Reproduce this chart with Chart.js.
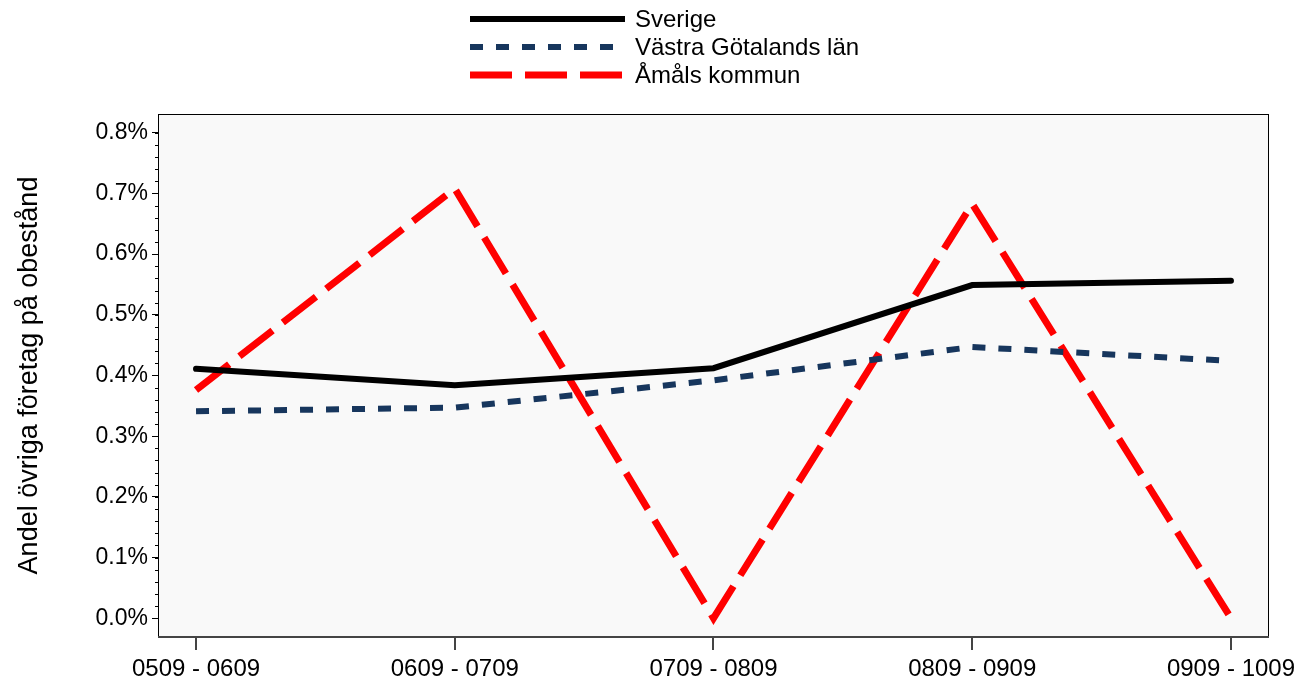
<!DOCTYPE html>
<html>
<head>
<meta charset="utf-8">
<script src="https://cdn.jsdelivr.net/npm/chart.js@4/dist/chart.umd.min.js"></script>
<style>
	html, body { margin: 0; padding: 0; background: #fff; }
	#wrap { width: 1297px; height: 689px; }
</style>
</head>
<body>
<div id="wrap"><canvas id="lineChart" width="1297" height="689"></canvas></div>
<script>
var perioder = ["0509 - 0609", "0609 - 0709", "0709 - 0809", "0809 - 0909", "0909 - 1009"];
var sverige = [0.411, 0.384, 0.412, 0.549, 0.556];
var vastraGotaland = [0.341, 0.347, 0.392, 0.447, 0.424];
var amal = [0.376, 0.708, 0, 0.683, 0];
var yTicks = [0, 0.1, 0.2, 0.3, 0.4, 0.5, 0.6, 0.7, 0.8];
var serieNamn = ["Sverige", "Västra Götalands län", "Åmåls kommun"];

var font = "'Liberation Sans', Arial, sans-serif";
var color = {
	black: "#000000",
	navy: "#17365d",
	red: "#ff0000",
	plot: "#f9f9f9"
};

function punkter(values) {
	return values.map(function (v, i) {
		return { x: i, y: v };
	});
}

// bakgrund, ram och små streck på y-axeln
var ramPlugin = {
	id: "ram",
	beforeDatasetsDraw: function (chart) {
		var ctx = chart.ctx;
		var a = chart.chartArea;
		ctx.save();
		ctx.strokeStyle = "#000";
		ctx.lineWidth = 1;
		ctx.strokeRect(a.left + 0.5, a.top + 0.5, a.right - a.left - 1, a.bottom - a.top);
		var y = chart.scales.y;
		ctx.beginPath();
		for (var v = 0; v <= 0.8001; v += 0.02) {
			var p = Math.round(y.getPixelForValue(v)) + 0.5;
			ctx.moveTo(a.left - 3, p);
			ctx.lineTo(a.left, p);
		}
		ctx.stroke();
		ctx.beginPath();
		ctx.strokeStyle = "#444";
		ctx.lineWidth = 2;
		ctx.moveTo(a.left, a.bottom);
		ctx.lineTo(a.right, a.bottom);
		ctx.stroke();
		ctx.restore();
	},
	beforeDraw: function (chart) {
		var a = chart.chartArea;
		chart.ctx.save();
		chart.ctx.fillStyle = color.plot;
		chart.ctx.fillRect(a.left, a.top, a.right - a.left, a.bottom - a.top);
		chart.ctx.restore();
	}
};

// legenden överst, en serie per rad
var legendPlugin = {
	id: "legendRader",
	afterDraw: function (chart) {
		var ctx = chart.ctx;
		ctx.save();
		ctx.font = "24px " + font;
		ctx.textBaseline = "middle";
		ctx.fillStyle = "#000";
		chart.data.datasets.forEach(function (ds, i) {
			var y = 19 + i * 28;
			ctx.beginPath();
			ctx.strokeStyle = ds.borderColor;
			ctx.lineWidth = ds.borderWidth;
			ctx.setLineDash(ds.borderDash || []);
			ctx.lineCap = "butt";
			ctx.moveTo(470, y);
			ctx.lineTo(625, y);
			ctx.stroke();
			ctx.setLineDash([]);
			ctx.fillText(serieNamn[i], 635, y + 1);
		});
		ctx.restore();
	}
};

var ctx = document.getElementById("lineChart").getContext("2d");
var lineChart = new Chart(ctx, {
	type: "line",
	data: {
		datasets: [{
			label: serieNamn[0],
			data: punkter(sverige),
			borderColor: color.black,
			borderWidth: 6,
			borderCapStyle: "round",
			pointRadius: 0,
			tension: 0
		}, {
			label: serieNamn[1],
			data: punkter(vastraGotaland),
			borderColor: color.navy,
			borderWidth: 6,
			borderDash: [13, 13],
			pointRadius: 0,
			tension: 0
		}, {
			label: serieNamn[2],
			data: punkter(amal),
			borderColor: color.red,
			borderWidth: 7,
			borderDash: [42, 13],
			borderJoinStyle: "miter",
			pointRadius: 0,
			tension: 0
		}]
	},
	options: {
		responsive: false,
		animation: false,
		clip: false,
		layout: { padding: { top: 114, right: 28, left: 0, bottom: 0 } },
		plugins: {
			legend: { display: false },
			tooltip: { enabled: false }
		},
		scales: {
			x: {
				type: "linear",
				min: -0.147,
				max: 4.147,
				afterBuildTicks: function (axis) {
					axis.ticks = perioder.map(function (p, i) { return { value: i }; });
				},
				afterFit: function (axis) {
					axis.height = 52;
					axis.paddingLeft = 0;
					axis.paddingRight = 0;
				},
				ticks: {
					font: { family: font, size: 24 },
					color: "#000",
					padding: 5,
					maxRotation: 0,
					callback: function (v) { return perioder[v]; }
				},
				grid: { drawOnChartArea: false, drawTicks: true, tickLength: 13, color: "#444", lineWidth: 2 },
				border: { display: false }
			},
			y: {
				type: "linear",
				min: -0.031,
				max: 0.831,
				afterBuildTicks: function (axis) {
					axis.ticks = yTicks.map(function (v) { return { value: v }; });
				},
				afterFit: function (axis) {
					axis.width = 158;
					axis.paddingTop = 0;
					axis.paddingBottom = 0;
				},
				ticks: {
					font: { family: font, size: 23 },
					color: "#000",
					padding: 4,
					callback: function (v) { return v.toFixed(1) + "%"; }
				},
				grid: { drawOnChartArea: false, drawTicks: true, tickLength: 6, color: "#000" },
				border: { display: true, color: "#000" },
				title: {
					display: true,
					text: "Andel övriga företag på obestånd",
					font: { family: font, size: 27 },
					color: "#000",
					padding: { top: 13, bottom: 0 }
				}
			}
		}
	},
	plugins: [ramPlugin, legendPlugin]
});
</script>
</body>
</html>
